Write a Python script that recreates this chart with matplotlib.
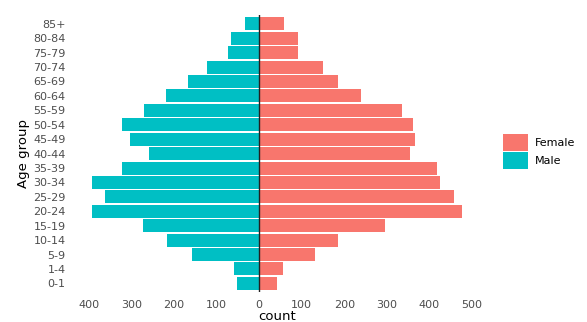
import numpy as np
import matplotlib.pyplot as plt
from matplotlib.patches import Patch

# 数据
age_groups = ["0-1", "1-4", "5-9", "10-14", "15-19", "20-24", "25-29", "30-34",
              "35-39", "40-44", "45-49", "50-54", "55-59", "60-64", "65-69",
              "70-74", "75-79", "80-84", "85+"]
male = [52, 59, 157, 216, 272, 391, 361, 391, 321, 258, 302, 321, 269, 218,
        166, 122, 73, 66, 33]
female = [42, 56, 131, 185, 295, 477, 457, 424, 418, 354, 365, 361, 335, 239,
          185, 150, 92, 92, 59]
xticks = [-400, -300, -200, -100, 0, 100, 200, 300, 400, 500]

FEMALE_COLOR = "#F8766D"
MALE_COLOR = "#00BFC4"

fig = plt.figure(figsize=(5.87, 3.22), dpi=100)
ax = fig.add_axes([0.126, 0.093, 0.693, 0.860])

y = np.arange(len(age_groups))
ax.barh(y, [-m for m in male], height=0.9, color=MALE_COLOR, linewidth=0)
ax.barh(y, female, height=0.9, color=FEMALE_COLOR, linewidth=0)
ax.axvline(0, color="#222222", linewidth=1.0)

xmin = -max(male)
xmax = max(female)
pad = (xmax - xmin) * 0.05
ax.set_xlim(xmin - pad, xmax + pad)
ax.set_ylim(-0.6, len(age_groups) - 0.4)

ax.set_yticks(y)
ax.set_yticklabels(age_groups)
ax.set_xticks(xticks)
ax.set_xticklabels([str(abs(t)) for t in xticks])
ax.tick_params(axis="both", length=0, labelsize=8, colors="#4D4D4D")
ax.tick_params(axis="y", pad=6)
ax.tick_params(axis="x", pad=6)

for s in ax.spines.values():
    s.set_visible(False)

ax.set_ylabel("Age group", fontsize=9.5, color="black", labelpad=2)
ax.set_xlabel("count", fontsize=9.5, color="black", labelpad=0)

handles = [Patch(facecolor=FEMALE_COLOR, label="Female"),
           Patch(facecolor=MALE_COLOR, label="Male")]
fig.legend(handles=handles, loc="center left", bbox_to_anchor=(0.848, 0.53),
           frameon=False, fontsize=8, handlelength=2.2, handleheight=2.0,
           labelspacing=0.1, handletextpad=0.6, borderpad=0)

fig.savefig("out.png", dpi=100)
